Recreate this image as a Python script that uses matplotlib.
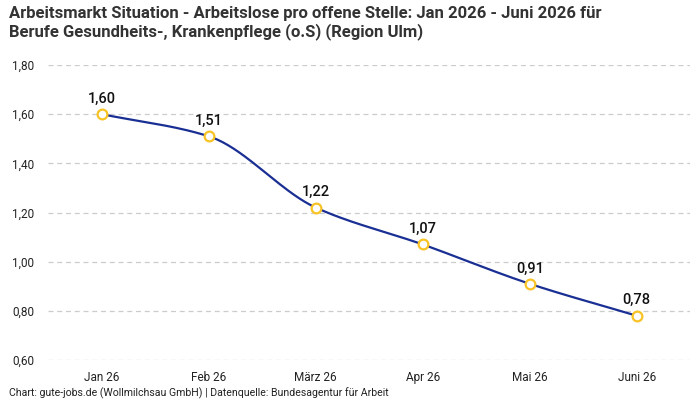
import numpy as np
import matplotlib
matplotlib.use("Agg")
import matplotlib.pyplot as plt

plt.rcParams['font.family'] = ['Roboto', 'DejaVu Sans']

months = ["Jan 26", "Feb 26", "März 26", "Apr 26", "Mai 26", "Juni 26"]
values = [1.60, 1.51, 1.22, 1.07, 0.91, 0.78]
labels = ["1,60", "1,51", "1,22", "1,07", "0,91", "0,78"]
yticks = [0.60, 0.80, 1.00, 1.20, 1.40, 1.60, 1.80]

title = ("Arbeitsmarkt Situation - Arbeitslose pro offene Stelle: Jan 2026 - Juni 2026 für\n"
         "Berufe Gesundheits-, Krankenpflege (o.S) (Region Ulm)")
source = "Chart: gute-jobs.de (Wollmilchsau GmbH) | Datenquelle: Bundesagentur für Arbeit"


def monotone(x, y, n=40):
    # monotone cubic (Fritsch-Carlson) for drawing the smooth line
    x = np.asarray(x, float)
    y = np.asarray(y, float)
    h = np.diff(x)
    d = np.diff(y) / h
    m = np.zeros_like(y)
    m[0], m[-1] = d[0], d[-1]
    for i in range(1, len(y) - 1):
        if d[i - 1] * d[i] <= 0:
            m[i] = 0
        else:
            w1 = 2 * h[i] + h[i - 1]
            w2 = h[i] + 2 * h[i - 1]
            m[i] = (w1 + w2) / (w1 / d[i - 1] + w2 / d[i])
    xs, ys = [], []
    for i in range(len(x) - 1):
        t = np.linspace(0, 1, n)
        h00 = 2 * t**3 - 3 * t**2 + 1
        h10 = t**3 - 2 * t**2 + t
        h01 = -2 * t**3 + 3 * t**2
        h11 = t**3 - t**2
        xs.append(x[i] + t * h[i])
        ys.append(h00 * y[i] + h10 * h[i] * m[i] + h01 * y[i + 1] + h11 * h[i] * m[i + 1])
    return np.concatenate(xs), np.concatenate(ys)


fig = plt.figure(figsize=(7, 4), dpi=100)
ax = fig.add_axes([0.069, 0.1, 0.917, 0.7375])

pos = np.arange(len(months))
sx, sy = monotone(pos, values)
ax.plot(sx, sy, color="#1a2f94", lw=1.6, zorder=2)
ax.plot(pos, values, "o", ms=7, mfc="white", mec="#f7c325", mew=1.6, zorder=3)

for p, v, l in zip(pos, values, labels):
    ax.annotate(l, (p, v), xytext=(0, 6), textcoords="offset points",
                ha="center", va="bottom", fontsize=10.5, color="#111111", fontweight="medium")

ax.set_xlim(-0.5, 5.5)
ax.set_ylim(0.6, 1.8)
ax.set_xticks(pos)
ax.set_xticklabels(months, fontsize=8.5, color="#222222")
ax.set_yticks(yticks)
ax.set_yticklabels([f"{t:.2f}".replace(".", ",") for t in yticks], fontsize=8.5, color="#222222")
ax.tick_params(length=0, pad=10)
ax.tick_params(axis="x", pad=8)
ax.grid(axis="y", color="#cccccc", ls=(0, (4, 3)), lw=0.9)
for s in ax.spines.values():
    s.set_visible(False)

fig.text(0.013, 0.985, title, ha="left", va="top", fontsize=12, fontweight="bold",
         color="#333333", linespacing=1.12)
fig.text(0.013, 0.003, source, ha="left", va="bottom", fontsize=7.6, color="#222222")

fig.savefig("out.png", dpi=100)
